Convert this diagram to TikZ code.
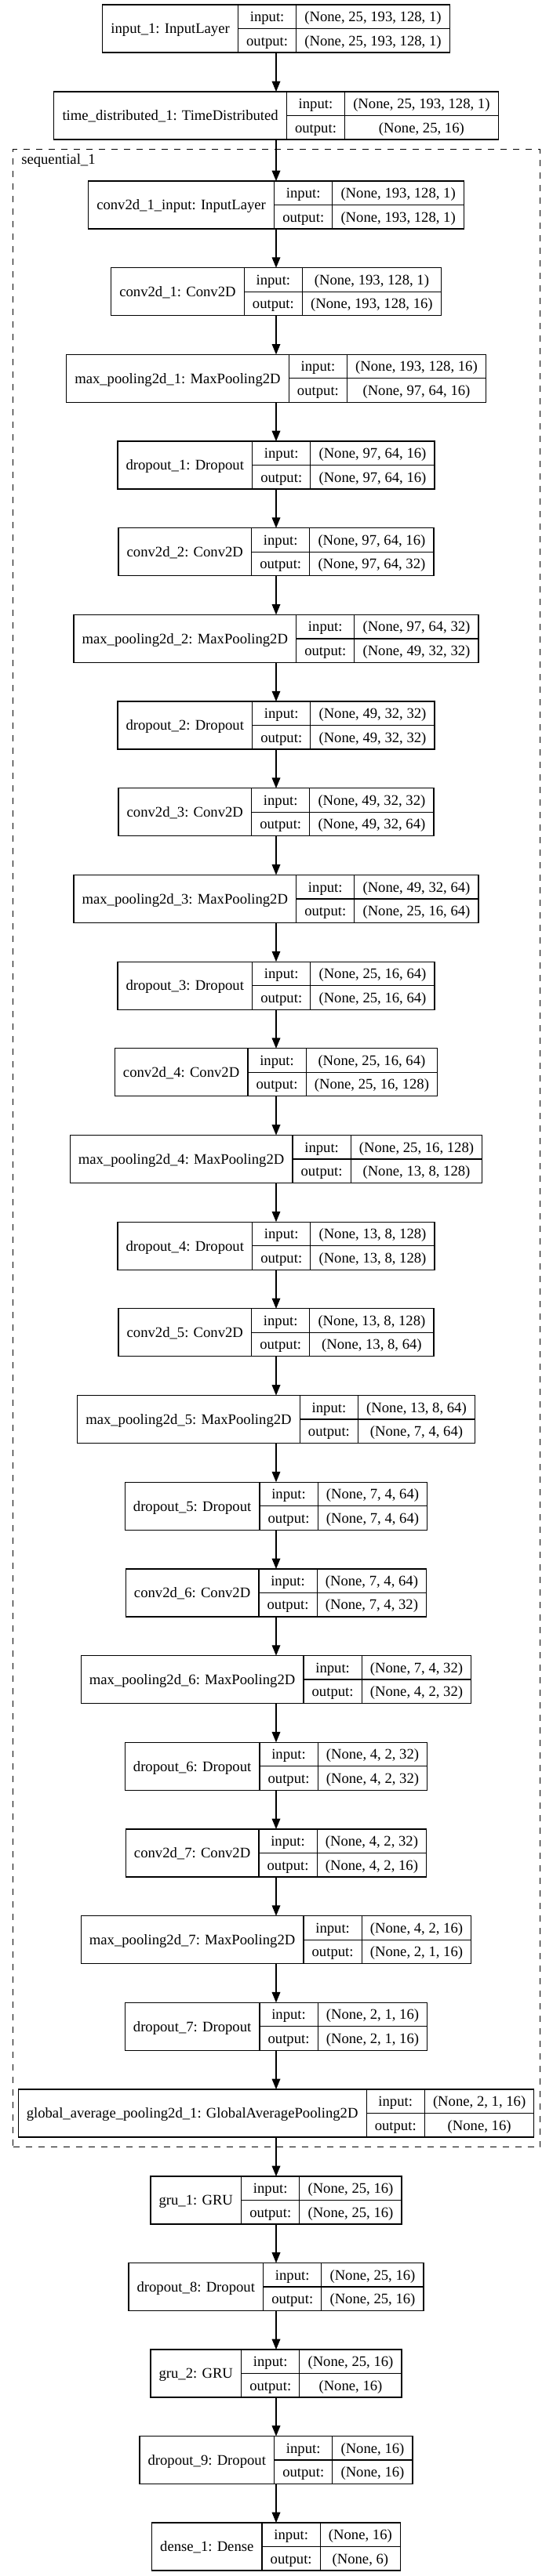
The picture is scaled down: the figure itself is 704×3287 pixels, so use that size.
\documentclass[tikz,border=0pt]{standalone}
\usepackage{fontspec}
\setmainfont{Liberation Serif}
\usetikzlibrary{arrows.meta}
\newlength\lylw \newlength\lymw \newlength\lyva \newlength\lyvb
\newcommand\lyf{\fontsize{14pt}{17pt}\selectfont}
\tikzset{
  layerbox/.style={draw, line width=0.9pt, rectangle, inner sep=0pt, outer sep=0pt, minimum height=45.75pt, anchor=north},
  cell/.style={line width=0.9pt},
  txt/.style={font=\lyf, inner sep=0pt, text height=12.5pt, text depth=3pt},
  arr/.style={-{Triangle[length=10pt,width=8pt]}, line width=0.9pt},
  clusterbox/.style={draw, line width=0.9pt, dash pattern=on 6pt off 6pt, rectangle, inner sep=0pt, anchor=north west}
}
\newcommand\layer[5]{%
 \pgfinterruptpicture
   \sbox0{\lyf #3}\global\lylw=\wd0
   \sbox0{\lyf output:}\global\lymw=\wd0
   \sbox0{\lyf #4}\global\lyva=\wd0
   \sbox0{\lyf #5}\global\lyvb=\wd0
 \endpgfinterruptpicture
 \ifdim\lyvb>\lyva \lyva=\lyvb\fi
 \pgfmathsetmacro\lyty{#2}%
 \pgfmathsetmacro\lywa{(\lylw+16pt)/0.75}%
 \pgfmathsetmacro\lywb{(\lymw+16pt)/0.75}%
 \pgfmathsetmacro\lywc{(\lyva+16pt)/0.75}%
 \pgfmathsetmacro\lyW{\lywa+\lywb+\lywc}%
 \pgfmathsetmacro\lyxl{352-\lyW/2}%
 \pgfmathsetmacro\lyxa{\lyxl+\lywa}%
 \pgfmathsetmacro\lyxb{\lyxa+\lywb}%
 \pgfmathsetmacro\lyxr{\lyxl+\lyW}%
 \pgfmathsetmacro\lyym{\lyty+30.5}%
 \pgfmathsetmacro\lyyb{\lyty+61}%
 \node[layerbox, minimum width=\lyW*0.75pt] (#1) at (352,\lyty) {};
 \draw[cell] (\lyxa,\lyty) -- (\lyxa,\lyyb) (\lyxb,\lyty) -- (\lyxb,\lyyb) (\lyxa,\lyym) -- (\lyxr,\lyym);
 \node[txt] (#1-name) at ({(\lyxl+\lyxa)/2},\lyym) {#3};
 \node[txt] (#1-inl) at ({(\lyxa+\lyxb)/2},{\lyty+15.25}) {input:};
 \node[txt] (#1-outl) at ({(\lyxa+\lyxb)/2},{\lyty+45.75}) {output:};
 \node[txt] (#1-inv) at ({(\lyxb+\lyxr)/2},{\lyty+15.25}) {#4};
 \node[txt] (#1-outv) at ({(\lyxb+\lyxr)/2},{\lyty+45.75}) {#5};
}
\begin{document}
\begin{tikzpicture}[x=0.75pt,y=-0.75pt]
\fill[white] (0,0) rectangle (704,3287);
\useasboundingbox (0,0) rectangle (704,3287);
% cluster
\node[clusterbox, minimum width=672*0.75pt, minimum height=2549*0.75pt] (seq) at (16,190) {};
\node[txt, anchor=base west] (seqlabel) at (27,209) {sequential\_1};
% layers
\layer{L1}{6}{input\_1: InputLayer}{(None, 25, 193, 128, 1)}{(None, 25, 193, 128, 1)}
\layer{L2}{117}{time\_distributed\_1: TimeDistributed}{(None, 25, 193, 128, 1)}{(None, 25, 16)}
\layer{S0}{231}{conv2d\_1\_input: InputLayer}{(None, 193, 128, 1)}{(None, 193, 128, 1)}
\layer{S1}{231+1*110.68}{conv2d\_1: Conv2D}{(None, 193, 128, 1)}{(None, 193, 128, 16)}
\layer{S2}{231+2*110.68}{max\_pooling2d\_1: MaxPooling2D}{(None, 193, 128, 16)}{(None, 97, 64, 16)}
\layer{S3}{231+3*110.68}{dropout\_1: Dropout}{(None, 97, 64, 16)}{(None, 97, 64, 16)}
\layer{S4}{231+4*110.68}{conv2d\_2: Conv2D}{(None, 97, 64, 16)}{(None, 97, 64, 32)}
\layer{S5}{231+5*110.68}{max\_pooling2d\_2: MaxPooling2D}{(None, 97, 64, 32)}{(None, 49, 32, 32)}
\layer{S6}{231+6*110.68}{dropout\_2: Dropout}{(None, 49, 32, 32)}{(None, 49, 32, 32)}
\layer{S7}{231+7*110.68}{conv2d\_3: Conv2D}{(None, 49, 32, 32)}{(None, 49, 32, 64)}
\layer{S8}{231+8*110.68}{max\_pooling2d\_3: MaxPooling2D}{(None, 49, 32, 64)}{(None, 25, 16, 64)}
\layer{S9}{231+9*110.68}{dropout\_3: Dropout}{(None, 25, 16, 64)}{(None, 25, 16, 64)}
\layer{S10}{231+10*110.68}{conv2d\_4: Conv2D}{(None, 25, 16, 64)}{(None, 25, 16, 128)}
\layer{S11}{231+11*110.68}{max\_pooling2d\_4: MaxPooling2D}{(None, 25, 16, 128)}{(None, 13, 8, 128)}
\layer{S12}{231+12*110.68}{dropout\_4: Dropout}{(None, 13, 8, 128)}{(None, 13, 8, 128)}
\layer{S13}{231+13*110.68}{conv2d\_5: Conv2D}{(None, 13, 8, 128)}{(None, 13, 8, 64)}
\layer{S14}{231+14*110.68}{max\_pooling2d\_5: MaxPooling2D}{(None, 13, 8, 64)}{(None, 7, 4, 64)}
\layer{S15}{231+15*110.68}{dropout\_5: Dropout}{(None, 7, 4, 64)}{(None, 7, 4, 64)}
\layer{S16}{231+16*110.68}{conv2d\_6: Conv2D}{(None, 7, 4, 64)}{(None, 7, 4, 32)}
\layer{S17}{231+17*110.68}{max\_pooling2d\_6: MaxPooling2D}{(None, 7, 4, 32)}{(None, 4, 2, 32)}
\layer{S18}{231+18*110.68}{dropout\_6: Dropout}{(None, 4, 2, 32)}{(None, 4, 2, 32)}
\layer{S19}{231+19*110.68}{conv2d\_7: Conv2D}{(None, 4, 2, 32)}{(None, 4, 2, 16)}
\layer{S20}{231+20*110.68}{max\_pooling2d\_7: MaxPooling2D}{(None, 4, 2, 16)}{(None, 2, 1, 16)}
\layer{S21}{231+21*110.68}{dropout\_7: Dropout}{(None, 2, 1, 16)}{(None, 2, 1, 16)}
\layer{S22}{231+22*110.68}{global\_average\_pooling2d\_1: GlobalAveragePooling2D}{(None, 2, 1, 16)}{(None, 16)}
\layer{B1}{2777}{gru\_1: GRU}{(None, 25, 16)}{(None, 25, 16)}
\layer{B2}{2887.5}{dropout\_8: Dropout}{(None, 25, 16)}{(None, 25, 16)}
\layer{B3}{2998}{gru\_2: GRU}{(None, 25, 16)}{(None, 16)}
\layer{B4}{3108.5}{dropout\_9: Dropout}{(None, 16)}{(None, 16)}
\layer{B5}{3219}{dense\_1: Dense}{(None, 16)}{(None, 6)}
% connectors
\draw[arr] (L1.south) -- (L2.north);
\draw[arr] (L2.south) -- (S0.north);
\foreach \a [evaluate=\a as \b using int(\a+1)] in {0,...,21} {
  \draw[arr] (S\a.south) -- (S\b.north);
}
\draw[arr] (S22.south) -- (B1.north);
\draw[arr] (B1.south) -- (B2.north);
\draw[arr] (B2.south) -- (B3.north);
\draw[arr] (B3.south) -- (B4.north);
\draw[arr] (B4.south) -- (B5.north);
\end{tikzpicture}
\end{document}
